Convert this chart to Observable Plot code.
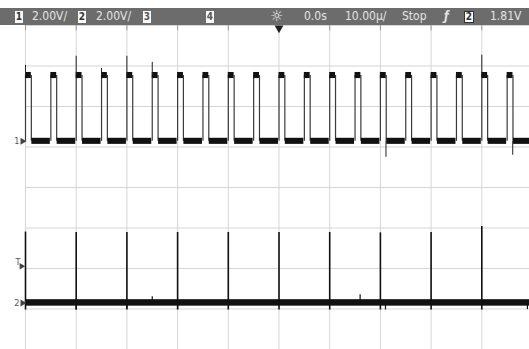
<!DOCTYPE html>
<html>
<head>
<meta charset="utf-8">
<script src="https://cdn.jsdelivr.net/npm/d3@7"></script>
<script src="https://cdn.jsdelivr.net/npm/@observablehq/plot@0.6"></script>
<style>
  html, body { margin: 0; padding: 0; background: #fff; }
  #wrap { width: 529px; height: 349px; overflow: hidden; position: relative; }
  #hdr { position: relative; width: 529px; height: 25px; background: #fff; }
  #bar { position: absolute; left: 0; top: 8px; width: 529px; height: 17px; background: #6c6c6c; }
  .lbl { position: absolute; top: 8px; line-height: 17px; font-family: "DejaVu Sans Condensed", "DejaVu Sans", sans-serif; font-size: 12px; color: #e4e4e4; white-space: nowrap; }
  .box { position: absolute; top: 11px; height: 12px; width: 8px; background: #fafafa; color: #555; font-family: "DejaVu Sans Condensed", "DejaVu Sans", sans-serif; font-size: 10px; font-weight: bold; line-height: 12px; text-align: center; }
  #plot svg { display: block; }
</style>
</head>
<body>
<div id="wrap">
  <div id="hdr"><div id="bar"></div></div>
  <div id="plot"></div>
</div>
<script>
// ---------- data ----------
const headerLabels = ["2.00V/", "2.00V/", "\u263C", "0.0s", "10.00\u00B5/", "Stop", "\u0192", "1.81V"];
const headerBoxes = ["1", "2", "3", "4", "2"];

const xTicksUs = [-50, -40, -30, -20, -10, 0, 10, 20, 30, 40, 50];   // 10 µs / div, trigger at 0
const yTicksDiv = [-4, -3, -2, -1, 0, 1, 2, 3, 4];
const voltsPerDiv = 2;

// Channel 1 (2.00 V/div)
const ch1GroundDiv = 1.14;
const ch1RiseTimesUs = [-50, -45, -40, -35, -30, -25, -20, -15, -10, -5, 0, 5, 10, 15, 20, 25, 30, 35, 40, 45];
const ch1PulseWidthUs = 1.15;
const ch1HighV = 3.25;
const ch1LowV = 0;
const ch1NoiseV = 0.15;
const ch1SpikeTimesUs = [-50, -40, -35, -30, -25, 40, 21.1, 46.1];
const ch1SpikePeaksV = [3.75, 4.2, 3.6, 4.2, 3.9, 4.25, -0.79, -0.69];

// Channel 2 (2.00 V/div)
const ch2GroundDiv = -2.85;
const ch2SpikeTimesUs = [-50, -40, -30, -20, -10, 0, 10, 20, 30, 40];
const ch2SpikePeaksV = [3.5, 3.48, 3.48, 3.48, 3.48, 3.48, 3.48, 3.46, 3.48, 3.78];
const ch2NoiseV = 0.16;
const ch2GlitchTimesUs = [-40, -30, -25, -20, 16, 21, 49];
const ch2GlitchV = [-0.35, -0.3, 0.3, -0.33, 0.4, -0.35, -0.33];

const trigLevelV = 1.81;
const trigTimeUs = 0;

// ---------- header (legend-like text above the plot) ----------
const headerLabelLeft = [32, 96, 270, 304, 345, 402, 444, 490];
const headerBoxLeft = [15, 78, 143, 206, 464];
const hdr = document.getElementById("hdr");
headerLabels.forEach((t, i) => {
  const s = document.createElement("span");
  s.className = "lbl";
  s.textContent = t;
  s.style.left = headerLabelLeft[i] + "px";
  if (t === "\u263C") { s.style.fontFamily = "DejaVu Sans"; s.style.fontSize = "15px"; s.style.color = "#f0f0f0"; }
  if (t === "\u0192") { s.style.fontStyle = "italic"; s.style.fontWeight = "bold"; }
  hdr.appendChild(s);
});
headerBoxes.forEach((t, i) => {
  const s = document.createElement("span");
  s.className = "box";
  s.textContent = t;
  s.style.left = headerBoxLeft[i] + "px";
  if (i === 4) { s.style.width = "10px"; s.style.color = "#333"; s.style.boxShadow = "inset 0 0 0 1px #333"; }
  if (i < 2) s.style.color = "#333";
  hdr.appendChild(s);
});

// ---------- derived tables ----------
const c1 = v => ch1GroundDiv + v / voltsPerDiv;
const c2 = v => ch2GroundDiv + v / voltsPerDiv;
const pulses = ch1RiseTimesUs.map(t => ({rise: t, fall: t + ch1PulseWidthUs}));
const lows = pulses.map((p, i) => ({x1: p.fall, x2: i + 1 < pulses.length ? pulses[i + 1].rise : 60}));
const ch1Spikes = ch1SpikeTimesUs.map((t, i) => ({t, v: ch1SpikePeaksV[i]}));
const ch2Spikes = ch2SpikeTimesUs.map((t, i) => ({t, v: ch2SpikePeaksV[i]}));
const ch2Glitches = ch2GlitchTimesUs.map((t, i) => ({t, v: ch2GlitchV[i]}));
const edges = pulses.flatMap(p => [p.rise, p.fall]);

const grid = "#d5d5d5";
const ink = "#111";

const chart = Plot.plot({
  width: 529,
  height: 324,
  margin: 0,
  x: {domain: [-50, 50], range: [25, 532], axis: null},
  y: {domain: [-4, 4], range: [324, 0], axis: null},
  style: {background: "#fff", overflow: "visible"},
  marks: [
    // graticule
    Plot.ruleY(yTicksDiv, {y: d => d, x1: () => -50, x2: () => 55, stroke: grid, strokeWidth: 1}),
    Plot.ruleX(xTicksUs, {x: d => d, y1: () => -4.2, y2: () => 4, stroke: grid, strokeWidth: 1}),
    Plot.ruleX(xTicksUs, {x: d => d, y1: () => 3.87, y2: () => 4, stroke: "#9a9a9a", strokeWidth: 1}),

    // channel 2
    Plot.rect([0], {x1: () => -50, x2: () => 60, y1: () => c2(-ch2NoiseV), y2: () => c2(ch2NoiseV), fill: ink}),
    Plot.ruleX(ch2Glitches, {x: "t", y1: () => c2(0), y2: d => c2(d.v), stroke: ink, strokeWidth: 1.2}),
    Plot.ruleX(ch2Spikes, {x: "t", y1: () => c2(-0.35), y2: d => c2(d.v), stroke: ink, strokeWidth: 1.6}),

    // channel 1
    Plot.ruleX(edges, {x: d => d, y1: () => c1(ch1LowV), y2: () => c1(ch1HighV), stroke: "#3a3a3a", strokeWidth: 1.2}),
    Plot.rect(lows, {x1: "x1", x2: "x2", y1: () => c1(ch1LowV - ch1NoiseV), y2: () => c1(ch1LowV + ch1NoiseV), fill: ink, insetLeft: 0.5, insetRight: 0.5}),
    Plot.rect(pulses, {x1: "rise", x2: "fall", y1: () => c1(ch1HighV - ch1NoiseV), y2: () => c1(ch1HighV + ch1NoiseV), fill: ink}),
    Plot.ruleX(ch1Spikes, {x: "t", y1: d => c1(d.v > 1 ? ch1HighV : ch1LowV), y2: d => c1(d.v), stroke: "#222", strokeWidth: 1}),

    // ground / trigger markers at the left edge
    Plot.text([{n: "1", y: c1(0)}, {n: "2", y: c2(0)}], {x: () => -50, y: "y", text: "n", dx: -6, textAnchor: "end", fontSize: 9, fill: "#555", fontFamily: "DejaVu Sans Condensed, DejaVu Sans, sans-serif"}),
    Plot.dot([c1(0), c2(0)], {x: () => -50, y: d => d, dx: -3, symbol: "triangle", rotate: 90, r: 2.6, fill: "#444", stroke: "none"}),
    Plot.text([c2(trigLevelV)], {x: () => -50, y: d => d, text: () => "T", dx: -5, dy: -4, textAnchor: "end", fontSize: 9, fill: "#555", fontFamily: "DejaVu Sans Condensed, DejaVu Sans, sans-serif"}),
    Plot.dot([c2(trigLevelV)], {x: () => -50, y: d => d, dx: -4, symbol: "triangle", rotate: 90, r: 2.4, fill: "#444", stroke: "none"}),

    // trigger position marker
    Plot.dot([trigTimeUs], {x: d => d, y: () => 4, dy: 2.5, symbol: "triangle", rotate: 180, r: 3.3, fill: "#222", stroke: "none"})
  ]
});
document.getElementById("plot").appendChild(chart);
</script>
</body>
</html>
